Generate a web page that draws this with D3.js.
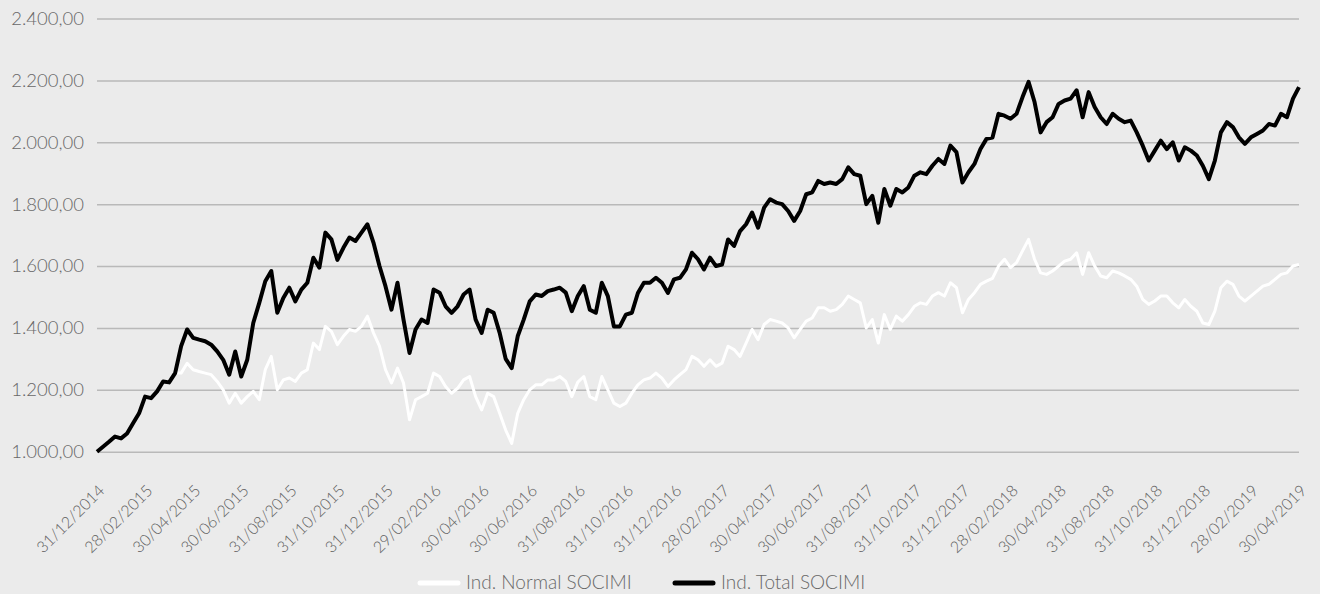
<!DOCTYPE html>
<html>
<head>
<meta charset="utf-8">
<script src="https://cdn.jsdelivr.net/npm/d3@7"></script>
<style>
  html, body { margin: 0; padding: 0; background: #ebebeb; }
  svg { display: block; font-family: Lato, "Open Sans", sans-serif; font-weight: 300; }
</style>
</head>
<body>
<div id="chart"></div>
<script>
// Ind. Normal / Total SOCIMI, 31/12/2014 - 30/04/2019 (8 samples per label step)

const tickLabels = [
    '31/12/2014', '28/02/2015', '30/04/2015', '30/06/2015', '31/08/2015', '31/10/2015',
    '31/12/2015', '29/02/2016', '30/04/2016', '30/06/2016', '31/08/2016', '31/10/2016',
    '31/12/2016', '28/02/2017', '30/04/2017', '30/06/2017', '31/08/2017', '31/10/2017',
    '31/12/2017', '28/02/2018', '30/04/2018', '31/08/2018', '31/10/2018', '31/12/2018',
    '28/02/2019', '30/04/2019'
];
const samplesPerLabel = 8;

const yTicks = [1000, 1200, 1400, 1600, 1800, 2000, 2200, 2400];

const seriesNames = ['Ind. Normal SOCIMI', 'Ind. Total SOCIMI'];

const normalSocimi = [
    1000, 1016, 1032, 1049, 1043, 1059, 1092, 1124, 1178, 1173, 1195, 1227, 1224, 1254,
    1254, 1286, 1265, 1259, 1254, 1249, 1227, 1200, 1157, 1189,
    1157, 1178, 1195, 1168, 1265, 1308, 1200, 1232, 1238, 1227,
    1254, 1265, 1351, 1330, 1405, 1389, 1346,
    1373, 1395, 1389, 1405, 1438, 1384, 1341, 1265, 1222, 1270,
    1222, 1103, 1168, 1178, 1189, 1254, 1243, 1211, 1189, 1205,
    1232, 1243, 1178, 1135, 1189, 1178, 1124, 1070, 1027, 1124,
    1168, 1200, 1216, 1216, 1232, 1232, 1243, 1227, 1178,
    1225,
    1243, 1178, 1168, 1243, 1200, 1157, 1146, 1157, 1189, 1216,
    1232, 1238, 1254, 1238, 1211, 1232, 1249, 1265, 1308, 1297,
    1276, 1297, 1276, 1286, 1341, 1330, 1308, 1351, 1395, 1362,
    1411, 1427, 1422, 1416, 1400, 1368, 1395, 1422, 1432,
    1465,
    1465, 1454, 1459, 1476, 1503, 1492, 1481, 1400, 1427, 1351,
    1443, 1395, 1438, 1422, 1443, 1470, 1481, 1476, 1503, 1514,
    1503, 1546, 1530, 1449, 1492, 1514, 1541, 1551,
    1560,
    1600, 1622, 1595, 1611, 1649, 1686, 1622, 1578, 1573, 1584,
    1600, 1616, 1622, 1643, 1573, 1643, 1600, 1568, 1562, 1584,
    1578, 1568, 1557, 1535, 1492, 1476, 1487, 1503, 1503, 1481,
    1465, 1492, 1470, 1454, 1416, 1411, 1454, 1530, 1551, 1541,
    1503, 1487, 1503, 1519, 1535, 1541, 1557, 1573, 1578, 1600,
    1605
];

const totalSocimi = [
    1000, 1016, 1032, 1049, 1043, 1059, 1092, 1124, 1178, 1173, 1195, 1227, 1224, 1254,
    1341, 1395, 1368, 1362, 1357, 1346, 1324, 1297, 1249, 1324,
    1243, 1297, 1416, 1481, 1551, 1584, 1449, 1497, 1530, 1486,
    1524, 1546, 1627, 1595, 1708, 1686, 1620,
    1659, 1692, 1681, 1708, 1735, 1676, 1600, 1535, 1459, 1546,
    1427, 1319, 1395, 1427, 1416, 1524, 1514, 1470, 1449, 1470,
    1508, 1524, 1427, 1384, 1459, 1449, 1384, 1300, 1270, 1373,
    1427, 1486, 1508, 1503, 1519, 1524, 1530, 1514, 1454,
    1503,
    1535, 1459, 1449, 1546, 1503, 1405, 1405, 1443, 1449, 1513,
    1546, 1546, 1562, 1546, 1513, 1557, 1562, 1589, 1643, 1622,
    1589, 1627, 1600, 1605, 1686, 1665, 1713, 1735, 1773, 1724,
    1789, 1816, 1805, 1800, 1778, 1746, 1778, 1832, 1838,
    1875,
    1865, 1870, 1865, 1881, 1919, 1897, 1892, 1800, 1827, 1740,
    1849, 1795, 1849, 1838, 1854, 1892, 1903, 1897, 1924, 1946,
    1930, 1989, 1968, 1870, 1903, 1930, 1978, 2011,
    2015,
    2092, 2086, 2076, 2092, 2146, 2195, 2130, 2032, 2065, 2081,
    2124, 2135, 2141, 2168, 2081, 2162, 2114, 2081, 2059, 2092,
    2076, 2065, 2070, 2032, 1989, 1941, 1973, 2005, 1978, 2000,
    1941, 1984, 1973, 1957, 1924, 1881, 1941, 2032, 2065, 2049,
    2016, 1995, 2016, 2027, 2038, 2059, 2054, 2092, 2081, 2141,
    2178
];

function createLineChart() {
    const width = 1320;
    const height = 594;
    const plot = {left: 97, right: 1299, top: 18.5, bottom: 451.7};

    const svg = d3.select('#chart').append('svg')
        .attr('width', width)
        .attr('height', height);

    svg.append('rect')
        .attr('width', width)
        .attr('height', height)
        .attr('fill', '#ebebeb');

    const es = d3.formatLocale({decimal: ',', thousands: '.', grouping: [3], currency: ['', ' €']});
    const fmt = es.format(',.2f');

    const xScale = d3.scaleLinear()
        .domain([0, (tickLabels.length - 1) * samplesPerLabel])
        .range([plot.left, plot.right]);

    const yScale = d3.scaleLinear()
        .domain([1000, 2400])
        .range([plot.bottom, plot.top]);

    // grid lines + y labels
    const yAxis = svg.append('g')
        .attr('transform', `translate(${plot.left},0)`)
        .call(d3.axisLeft(yScale)
            .tickValues(yTicks)
            .tickSize(-(plot.right - plot.left))
            .tickPadding(13)
            .tickFormat(fmt));
    yAxis.select('.domain').remove();
    yAxis.selectAll('.tick line')
        .attr('stroke', '#b9b9b9')
        .attr('stroke-width', 1.5);
    yAxis.selectAll('.tick text')
        .attr('fill', '#686868')
        .style('font-size', '18.5px')
        .style('font-family', 'Lato, sans-serif')
        .style('font-weight', 300);

    // x labels, rotated
    const xAxis = svg.append('g')
        .attr('transform', `translate(0,${plot.bottom})`)
        .call(d3.axisBottom(xScale)
            .tickValues(tickLabels.map((d, i) => i * samplesPerLabel))
            .tickSize(0)
            .tickFormat((d, i) => tickLabels[i]));
    xAxis.select('.domain').remove();
    xAxis.selectAll('.tick text')
        .attr('fill', '#606060')
        .attr('text-anchor', 'end')
        .attr('dy', null)
        .attr('y', 0)
        .attr('transform', 'translate(8,40) rotate(-45)')
        .style('font-size', '16px')
        .style('font-family', 'Lato, sans-serif')
        .style('font-weight', 300);

    const line = d3.line()
        .x((d, i) => xScale(i))
        .y(d => yScale(d));

    svg.append('path')
        .datum(normalSocimi)
        .attr('fill', 'none')
        .attr('stroke', '#ffffff')
        .attr('stroke-width', 3)
        .attr('stroke-linejoin', 'round')
        .attr('d', line);

    svg.append('path')
        .datum(totalSocimi)
        .attr('fill', 'none')
        .attr('stroke', '#000000')
        .attr('stroke-width', 4)
        .attr('stroke-linejoin', 'round')
        .attr('d', line);

    // legend
    const legendItems = [
        {name: seriesNames[0], color: '#ffffff', x: 420},
        {name: seriesNames[1], color: '#000000', x: 675}
    ];
    const legend = svg.append('g');
    legendItems.forEach(item => {
        legend.append('line')
            .attr('x1', item.x)
            .attr('x2', item.x + 38)
            .attr('y1', 583)
            .attr('y2', 583)
            .attr('stroke', item.color)
            .attr('stroke-width', 5)
            .attr('stroke-linecap', 'round');
        legend.append('text')
            .attr('x', item.x + 46)
            .attr('y', 589)
            .attr('fill', '#686868')
            .style('font-size', '19px')
            .style('font-weight', 300)
            .text(item.name);
    });
}

createLineChart();
</script>
</body>
</html>
